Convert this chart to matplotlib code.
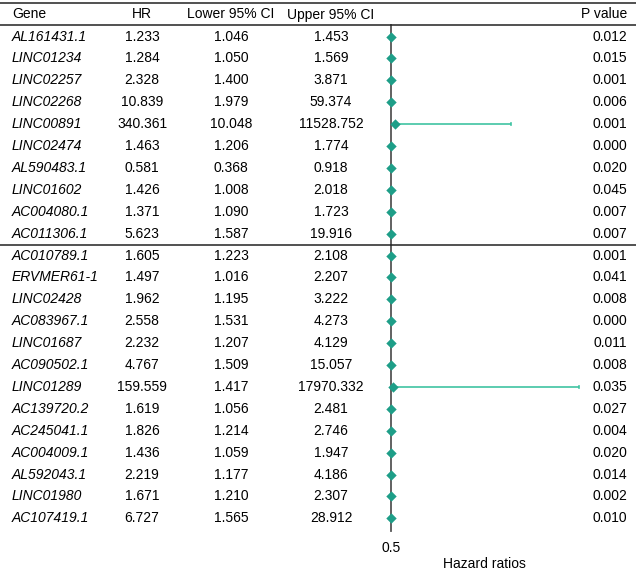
import matplotlib
matplotlib.use("Agg")
import matplotlib.pyplot as plt
import matplotlib.transforms as mtransforms
from matplotlib.lines import Line2D

plt.rcParams["font.family"] = ["Liberation Sans", "DejaVu Sans"]

# 数据：基因、HR、95% CI 上下限、P 值
genes = ["AL161431.1", "LINC01234", "LINC02257", "LINC02268", "LINC00891",
         "LINC02474", "AL590483.1", "LINC01602", "AC004080.1", "AC011306.1",
         "AC010789.1", "ERVMER61-1", "LINC02428", "AC083967.1", "LINC01687",
         "AC090502.1", "LINC01289", "AC139720.2", "AC245041.1", "AC004009.1",
         "AL592043.1", "LINC01980", "AC107419.1"]
hr = [1.233, 1.284, 2.328, 10.839, 340.361, 1.463, 0.581, 1.426, 1.371, 5.623,
      1.605, 1.497, 1.962, 2.558, 2.232, 4.767, 159.559, 1.619, 1.826, 1.436,
      2.219, 1.671, 6.727]
lower = [1.046, 1.050, 1.400, 1.979, 10.048, 1.206, 0.368, 1.008, 1.090, 1.587,
         1.223, 1.016, 1.195, 1.531, 1.207, 1.509, 1.417, 1.056, 1.214, 1.059,
         1.177, 1.210, 1.565]
upper = [1.453, 1.569, 3.871, 59.374, 11528.752, 1.774, 0.918, 2.018, 1.723, 19.916,
         2.108, 2.207, 3.222, 4.273, 4.129, 15.057, 17970.332, 2.481, 2.746, 1.947,
         4.186, 2.307, 28.912]
pvals = [0.012, 0.015, 0.001, 0.006, 0.001, 0.000, 0.020, 0.045, 0.007, 0.007,
         0.001, 0.041, 0.008, 0.000, 0.011, 0.008, 0.035, 0.027, 0.004, 0.020,
         0.014, 0.002, 0.010]
group_split = 10  # 前 10 行与后 13 行之间有分隔线

W, H = 636, 572
fig = plt.figure(figsize=(W / 100, H / 100), dpi=100)

# 森林图区域（像素换算成 figure 坐标）
ax_left, ax_right = 391, 631
ax_top, ax_bottom = 25, 531
ax = fig.add_axes([ax_left / W, 1 - ax_bottom / H,
                   (ax_right - ax_left) / W, (ax_bottom - ax_top) / H])

n = len(genes)
rows = list(range(n))
ax.set_ylim(22.58, -0.53)
ax.set_xlim(0.5, 23000)

line_col = "#3fc4a2"
mark_col = "#1e9e88"
ax.hlines(rows, lower, upper, color=line_col, lw=1.2, clip_on=False, zorder=2)
for y, u in zip(rows, upper):
    ax.plot([u, u], [y - 0.06, y + 0.06], color=line_col, lw=1.2, clip_on=False)
ax.scatter(hr, rows, marker="D", s=28, color=mark_col, zorder=3, clip_on=False,
           linewidths=0)

for s in ["top", "right", "bottom"]:
    ax.spines[s].set_visible(False)
ax.spines["left"].set_color("#555555")
ax.spines["left"].set_linewidth(1.3)
ax.set_yticks([])
ax.set_xticks([0.5])
ax.set_xticklabels(["0.5"])
fs = 10
ax.tick_params(axis="x", length=0, pad=7, labelsize=fs)
ax.set_xlabel("Hazard ratios", fontsize=fs)
ax.xaxis.set_label_coords((484 - ax_left) / (ax_right - ax_left), -(564 - ax_bottom) / (ax_bottom - ax_top))
ax.xaxis.label.set_verticalalignment("center")

# 文本列：x 用 figure 坐标，y 用数据坐标
col_x = {"gene": 12, "hr": 142, "lower": 231, "upper": 331, "p": 627}
tr = mtransforms.blended_transform_factory(fig.transFigure, ax.transData)
for i in rows:
    ax.text(col_x["gene"] / W, i, genes[i], transform=tr, ha="left", va="center", fontsize=fs, style="italic")
    ax.text(col_x["hr"] / W, i, f"{hr[i]:.3f}", transform=tr, ha="center", va="center", fontsize=fs)
    ax.text(col_x["lower"] / W, i, f"{lower[i]:.3f}", transform=tr, ha="center", va="center", fontsize=fs)
    ax.text(col_x["upper"] / W, i, f"{upper[i]:.3f}", transform=tr, ha="center", va="center", fontsize=fs)
    ax.text(col_x["p"] / W, i, f"{pvals[i]:.3f}", transform=tr, ha="right", va="center", fontsize=fs)

# 表头
hy = 1 - 14.5 / H
fig.text(col_x["gene"] / W, hy, "Gene", ha="left", va="center", fontsize=fs)
fig.text(col_x["hr"] / W, hy, "HR", ha="center", va="center", fontsize=fs)
fig.text(col_x["lower"] / W, hy, "Lower 95% CI", ha="center", va="center", fontsize=fs)
fig.text(col_x["upper"] / W, hy, "Upper 95% CI", ha="center", va="center", fontsize=fs)
fig.text(col_x["p"] / W, hy, "P value", ha="right", va="center", fontsize=fs)

# 横线
for ypix in [3, 25]:
    fig.add_artist(Line2D([0, 1], [1 - ypix / H] * 2, color="#222222", lw=1.1, transform=fig.transFigure))
fig.add_artist(Line2D([0, 1], [group_split - 0.5] * 2, color="#222222", lw=1.1, transform=tr))

fig.savefig("out.png", dpi=100)
